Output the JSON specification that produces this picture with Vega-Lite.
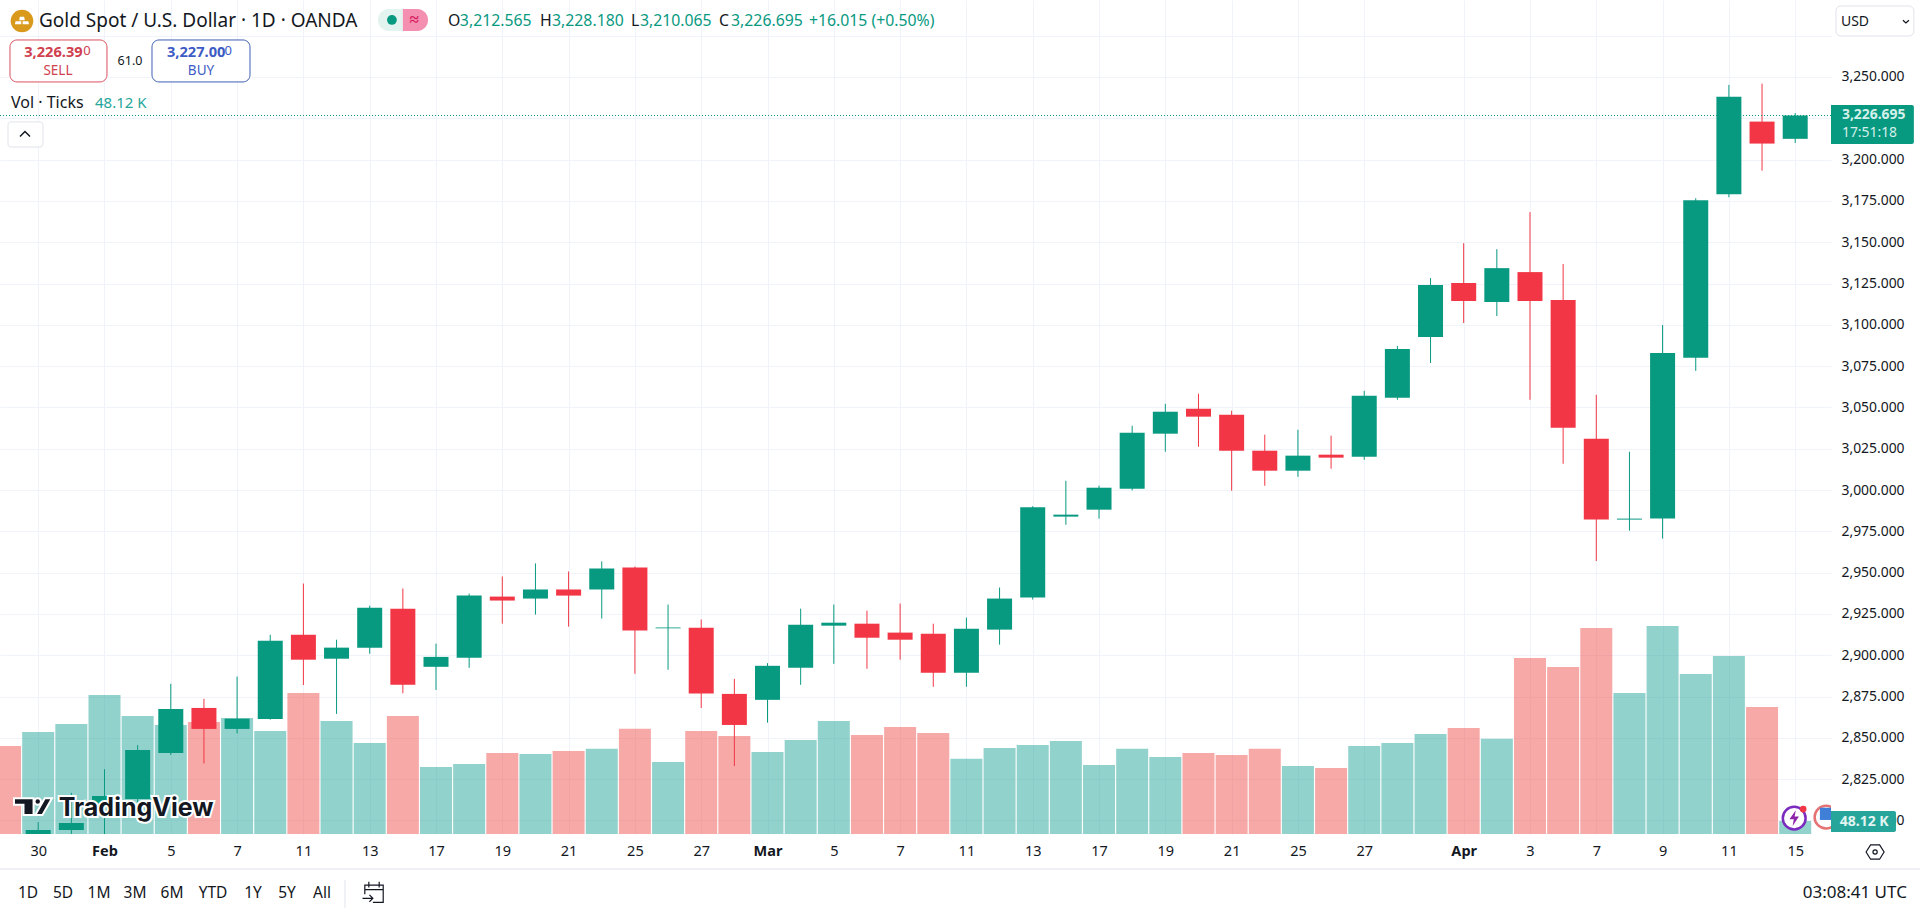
{
  "$schema": "https://vega.github.io/schema/vega-lite/v6.json",
  "width": 1831,
  "height": 834,
  "autosize": {"type": "none"},
  "padding": {"left": 0, "top": 0, "right": 89, "bottom": 79},
  "background": "#ffffff",
  "config": {
    "font": "Noto Sans",
    "view": {"stroke": null},
    "text": {"align": "left", "baseline": "middle", "color": "#131722", "fontSize": 15}
  },
  "datasets": {
    "days": [
      {"n": -1, "date": "2025-01-29", "open": 2768, "high": 2772, "low": 2760, "close": 2763, "vol": 326, "side": "down"},
      {"n": 0, "date": "2025-01-30", "open": 2764, "high": 2799, "low": 2760, "close": 2794.2, "vol": 377, "side": "up"},
      {"n": 1, "date": "2025-01-31", "open": 2794.2, "high": 2816.7, "low": 2772, "close": 2798.4, "vol": 407, "side": "up"},
      {"n": 2, "date": "2025-02-03", "open": 2810, "high": 2831, "low": 2785, "close": 2814.8, "vol": 514, "side": "up"},
      {"n": 3, "date": "2025-02-04", "open": 2813, "high": 2845.6, "low": 2811, "close": 2842.6, "vol": 437, "side": "up"},
      {"n": 4, "date": "2025-02-05", "open": 2840.8, "high": 2882.7, "low": 2839.6, "close": 2867.5, "vol": 403, "side": "up"},
      {"n": 5, "date": "2025-02-06", "open": 2868.1, "high": 2873.6, "low": 2834.5, "close": 2855.4, "vol": 414, "side": "down"},
      {"n": 6, "date": "2025-02-07", "open": 2855.4, "high": 2887.1, "low": 2852.7, "close": 2861.6, "vol": 429, "side": "up"},
      {"n": 7, "date": "2025-02-10", "open": 2861.4, "high": 2912.4, "low": 2861, "close": 2908.8, "vol": 381, "side": "up"},
      {"n": 8, "date": "2025-02-11", "open": 2912.4, "high": 2943.4, "low": 2882, "close": 2897.3, "vol": 522, "side": "down"},
      {"n": 9, "date": "2025-02-12", "open": 2897.9, "high": 2909.4, "low": 2864.5, "close": 2904.6, "vol": 418, "side": "up"},
      {"n": 10, "date": "2025-02-13", "open": 2904.6, "high": 2930, "low": 2900.9, "close": 2928.8, "vol": 337, "side": "up"},
      {"n": 11, "date": "2025-02-14", "open": 2928.2, "high": 2940.4, "low": 2877, "close": 2882.1, "vol": 437, "side": "down"},
      {"n": 12, "date": "2025-02-17", "open": 2893, "high": 2907, "low": 2879, "close": 2899, "vol": 248, "side": "up"},
      {"n": 13, "date": "2025-02-18", "open": 2898.5, "high": 2937.3, "low": 2892.4, "close": 2936.1, "vol": 259, "side": "up"},
      {"n": 14, "date": "2025-02-19", "open": 2935.5, "high": 2947.7, "low": 2919.1, "close": 2933.1, "vol": 300, "side": "down"},
      {"n": 15, "date": "2025-02-20", "open": 2934.3, "high": 2955.6, "low": 2924.6, "close": 2939.8, "vol": 296, "side": "up"},
      {"n": 16, "date": "2025-02-21", "open": 2939.8, "high": 2950.7, "low": 2917.3, "close": 2936.1, "vol": 307, "side": "down"},
      {"n": 17, "date": "2025-02-24", "open": 2939.8, "high": 2956.8, "low": 2922.2, "close": 2952.5, "vol": 315, "side": "up"},
      {"n": 18, "date": "2025-02-25", "open": 2953.1, "high": 2953.7, "low": 2888.8, "close": 2914.9, "vol": 389, "side": "down"},
      {"n": 19, "date": "2025-02-26", "open": 2916.3, "high": 2930.7, "low": 2891.2, "close": 2916.8, "vol": 266, "side": "up"},
      {"n": 20, "date": "2025-02-27", "open": 2916.7, "high": 2921.6, "low": 2868.1, "close": 2876.8, "vol": 381, "side": "down"},
      {"n": 21, "date": "2025-02-28", "open": 2876.6, "high": 2885.7, "low": 2832.9, "close": 2857.8, "vol": 363, "side": "down"},
      {"n": 22, "date": "2025-03-03", "open": 2873, "high": 2895.2, "low": 2859.2, "close": 2893.6, "vol": 303, "side": "up"},
      {"n": 23, "date": "2025-03-04", "open": 2892.4, "high": 2928.2, "low": 2882.1, "close": 2918.5, "vol": 348, "side": "up"},
      {"n": 24, "date": "2025-03-05", "open": 2917.9, "high": 2930.7, "low": 2894.8, "close": 2919.7, "vol": 418, "side": "up"},
      {"n": 25, "date": "2025-03-06", "open": 2919.1, "high": 2927, "low": 2891.8, "close": 2910.6, "vol": 366, "side": "down"},
      {"n": 26, "date": "2025-03-07", "open": 2913.7, "high": 2931.3, "low": 2897.3, "close": 2909.4, "vol": 396, "side": "down"},
      {"n": 27, "date": "2025-03-10", "open": 2913, "high": 2919.1, "low": 2880.9, "close": 2889.4, "vol": 374, "side": "down"},
      {"n": 28, "date": "2025-03-11", "open": 2889.4, "high": 2922.8, "low": 2880.9, "close": 2916.1, "vol": 278, "side": "up"},
      {"n": 29, "date": "2025-03-12", "open": 2915.5, "high": 2941, "low": 2906.4, "close": 2934.3, "vol": 318, "side": "up"},
      {"n": 30, "date": "2025-03-13", "open": 2934.9, "high": 2990.2, "low": 2933.7, "close": 2989.6, "vol": 329, "side": "up"},
      {"n": 31, "date": "2025-03-14", "open": 2983.9, "high": 3005.6, "low": 2979, "close": 2985.1, "vol": 344, "side": "up"},
      {"n": 32, "date": "2025-03-17", "open": 2988.1, "high": 3002.6, "low": 2982.7, "close": 3001.4, "vol": 255, "side": "up"},
      {"n": 33, "date": "2025-03-18", "open": 3000.8, "high": 3038.9, "low": 2999.8, "close": 3034.7, "vol": 315, "side": "up"},
      {"n": 34, "date": "2025-03-19", "open": 3034.1, "high": 3052.2, "low": 3023.2, "close": 3047.4, "vol": 285, "side": "up"},
      {"n": 35, "date": "2025-03-20", "open": 3049.2, "high": 3058.3, "low": 3026.2, "close": 3044.4, "vol": 300, "side": "down"},
      {"n": 36, "date": "2025-03-21", "open": 3045.6, "high": 3048, "low": 2999.6, "close": 3023.8, "vol": 292, "side": "down"},
      {"n": 37, "date": "2025-03-24", "open": 3023.8, "high": 3033.5, "low": 3002.6, "close": 3011.7, "vol": 315, "side": "down"},
      {"n": 38, "date": "2025-03-25", "open": 3011.7, "high": 3036.5, "low": 3008, "close": 3020.8, "vol": 252, "side": "up"},
      {"n": 39, "date": "2025-03-26", "open": 3021.4, "high": 3032.9, "low": 3012.9, "close": 3019.6, "vol": 244, "side": "down"},
      {"n": 40, "date": "2025-03-27", "open": 3020.2, "high": 3060, "low": 3018.3, "close": 3057, "vol": 326, "side": "up"},
      {"n": 41, "date": "2025-03-28", "open": 3055.8, "high": 3087.2, "low": 3054.6, "close": 3085.4, "vol": 337, "side": "up"},
      {"n": 42, "date": "2025-03-31", "open": 3092.6, "high": 3128.3, "low": 3076.9, "close": 3124.1, "vol": 370, "side": "up"},
      {"n": 43, "date": "2025-04-01", "open": 3125.3, "high": 3149.4, "low": 3101.1, "close": 3114.4, "vol": 392, "side": "down"},
      {"n": 44, "date": "2025-04-02", "open": 3113.8, "high": 3145.8, "low": 3105.3, "close": 3134.3, "vol": 352, "side": "up"},
      {"n": 45, "date": "2025-04-03", "open": 3131.9, "high": 3168.2, "low": 3054.6, "close": 3114.4, "vol": 651, "side": "down"},
      {"n": 46, "date": "2025-04-04", "open": 3115, "high": 3136.8, "low": 3015.9, "close": 3037.7, "vol": 618, "side": "down"},
      {"n": 47, "date": "2025-04-07", "open": 3031, "high": 3057.6, "low": 2957, "close": 2982.1, "vol": 762, "side": "down"},
      {"n": 48, "date": "2025-04-08", "open": 2982.1, "high": 3023.2, "low": 2975.4, "close": 2982.7, "vol": 522, "side": "up"},
      {"n": 49, "date": "2025-04-09", "open": 2982.7, "high": 3099.9, "low": 2970.6, "close": 3083, "vol": 770, "side": "up"},
      {"n": 50, "date": "2025-04-10", "open": 3080, "high": 3176.6, "low": 3072.1, "close": 3175.4, "vol": 592, "side": "up"},
      {"n": 51, "date": "2025-04-11", "open": 3179, "high": 3245.2, "low": 3177.2, "close": 3238.1, "vol": 659, "side": "up"},
      {"n": 52, "date": "2025-04-14", "open": 3223, "high": 3246, "low": 3193.3, "close": 3209.7, "vol": 470, "side": "down"},
      {"n": 53, "date": "2025-04-15", "open": 3212.565, "high": 3228.18, "low": 3210.065, "close": 3226.695, "vol": 48.12, "side": "up"}
    ],
    "one": [{}]
  },
  "resolve": {"scale": {"y": "independent"}},
  "layer": [
    {
      "data": {"name": "days"},
      "mark": {"type": "bar", "orient": "vertical", "width": 32, "opacity": 0.5, "clip": true},
      "encoding": {
        "x": {
          "field": "n",
          "type": "quantitative",
          "title": null,
          "scale": {"domain": [-1.152, 54.08], "nice": false, "zero": false, "padding": 0},
          "axis": {
            "orient": "bottom",
            "values": [0, 2, 4, 6, 8, 10, 12, 14, 16, 18, 20, 22, 24, 26, 28, 30, 32, 34, 36, 38, 40, 43, 45, 47, 49, 51, 53],
            "labelExpr": "['30','','Feb','','5','','7','','11','','13','','17','','19','','21','','25','','27','','Mar','','5','','7','','11','','13','','17','','19','','21','','25','','27','','','Apr','','3','','7','','9','','11','','15'][datum.value]",
            "labelFontWeight": {"condition": {"test": "datum.value == 2 || datum.value == 22 || datum.value == 43", "value": "bold"}, "value": "normal"},
            "labelFontSize": 14.5,
            "labelColor": "#131722",
            "labelPadding": 10,
            "labelOverlap": false,
            "labelFlush": false,
            "domain": false,
            "ticks": false,
            "grid": true,
            "gridColor": "#F0F3FA"
          }
        },
        "y": {"field": "vol", "type": "quantitative", "stack": null, "scale": {"domain": [0, 3086], "nice": false}, "axis": null},
        "color": {"condition": {"test": "datum.side == 'up'", "value": "#26A69A"}, "value": "#EF5350"}
      }
    },
    {
      "layer": [
        {
          "data": {"name": "days"},
          "mark": {"type": "rule", "clip": true, "strokeWidth": 1},
          "encoding": {
            "x": {"field": "n", "type": "quantitative"},
            "y": {
              "field": "low",
              "type": "quantitative",
              "title": null,
              "scale": {"domain": [2791.8, 3296.6], "nice": false, "zero": false},
              "axis": {
                "orient": "right",
                "values": [2800, 2825, 2850, 2875, 2900, 2925, 2950, 2975, 3000, 3025, 3050, 3075, 3100, 3125, 3150, 3175, 3200, 3225, 3250, 3275],
                "format": ",.3f",
                "labelExpr": "datum.value == 3275 || datum.value == 3225 ? '' : datum.label",
                "labelFontSize": 13.9,
                "labelColor": "#131722",
                "labelPadding": 10,
                "domain": false,
                "ticks": false,
                "grid": true,
                "gridColor": "#F0F3FA"
              }
            },
            "y2": {"field": "high"},
            "color": {"condition": {"test": "datum.side == 'up'", "value": "#089981"}, "value": "#F23645"}
          }
        },
        {
          "data": {"name": "one"},
          "mark": {"type": "rule", "color": "#089981", "strokeDash": [1, 2], "strokeWidth": 1},
          "encoding": {"y": {"datum": 3226.695}}
        },
        {
          "data": {"name": "days"},
          "mark": {"type": "bar", "orient": "vertical", "width": 25, "clip": true},
          "encoding": {
            "x": {"field": "n", "type": "quantitative"},
            "y": {"field": "open", "type": "quantitative"},
            "y2": {"field": "close"},
            "color": {"condition": {"test": "datum.side == 'up'", "value": "#089981"}, "value": "#F23645"}
          }
        },

        {"data": {"name": "one"}, "mark": {"type": "rule", "color": "#E0E3EB"}, "encoding": {"x": {"datum": -1.152}, "x2": {"datum": 56.77}, "y": {"datum": 2770.6}}},
        {"data": {"name": "one"}, "mark": {"type": "rule", "color": "#E0E3EB"}, "encoding": {"x": {"datum": 9.255}, "y": {"datum": 2763.9}, "y2": {"datum": 2747}}},

        {"data": {"name": "one"}, "mark": {"type": "point", "filled": true, "color": "#ffffff", "opacity": 1, "stroke": "#7B2CBF", "strokeWidth": 2.5, "size": 520, "shape": "circle", "clip": true}, "encoding": {"x": {"datum": 52.97}, "y": {"datum": 2801.4}}},
        {"data": {"name": "one"}, "mark": {"type": "point", "filled": true, "color": "#8E24AA", "opacity": 1, "size": 250, "shape": "M.2 -1 L-.6 .15 H-.05 L-.2 1 L.6 -.2 H.05 Z"}, "encoding": {"x": {"datum": 52.97}, "y": {"datum": 2801.4}}},
        {"data": {"name": "one"}, "mark": {"type": "point", "filled": true, "color": "#F23645", "opacity": 1, "size": 45, "shape": "circle"}, "encoding": {"x": {"datum": 53.24}, "y": {"datum": 2806.9}}},
        {"data": {"name": "one"}, "mark": {"type": "point", "filled": true, "color": "#ffffff", "opacity": 1, "stroke": "#E57373", "strokeWidth": 2.5, "size": 520, "shape": "circle", "clip": true}, "encoding": {"x": {"datum": 53.93}, "y": {"datum": 2802}}},
        {"data": {"name": "one"}, "mark": {"type": "point", "filled": true, "color": "#3F7FD8", "opacity": 1, "size": 150, "shape": "square", "clip": true}, "encoding": {"x": {"datum": 53.93}, "y": {"datum": 2804}}},

        {"data": {"name": "one"}, "mark": {"type": "point", "filled": true, "color": "#131722", "opacity": 1, "stroke": "#ffffff", "strokeWidth": 2, "size": 1444, "shape": "M-1 -.44 H.03 V.44 H-.5 V-.1 H-1 Z M.08 -.27 A.17 .17 0 1 1 .42 -.27 A.17 .17 0 1 1 .08 -.27 Z M.62 -.44 H1 L.5 .44 H.12 Z"}, "encoding": {"x": {"datum": -0.157}, "y": {"datum": 2808.4}}},
        {"data": {"values": [{"label": "TradingView"}]}, "mark": {"type": "text", "font": "Inter", "fontSize": 25, "fontWeight": 700, "color": "#ffffff", "stroke": "#ffffff", "strokeWidth": 4}, "encoding": {"x": {"datum": 0.62}, "y": {"datum": 2807.5}, "text": {"field": "label"}}},
        {"data": {"values": [{"label": "TradingView"}]}, "mark": {"type": "text", "font": "Inter", "fontSize": 25, "fontWeight": 700, "color": "#131722"}, "encoding": {"x": {"datum": 0.62}, "y": {"datum": 2807.5}, "text": {"field": "label"}}},

        {"data": {"name": "one"}, "mark": {"type": "point", "filled": true, "color": "#D99A1C", "opacity": 1, "size": 510, "shape": "circle"}, "encoding": {"x": {"datum": -0.489}, "y": {"datum": 3283.9}}},
        {"data": {"name": "one"}, "mark": {"type": "point", "filled": true, "color": "#ffffff", "opacity": 1, "size": 200, "shape": "M-.3 -.6 H.3 L.4 -.1 H-.4 Z M-.9 .05 H-.1 V.45 H-1 Z M.1 .05 H.9 L1 .45 H.1 Z"}, "encoding": {"x": {"datum": -0.489}, "y": {"datum": 3283.9}}},
        {"data": {"values": [{"label": "Gold Spot / U.S. Dollar · 1D · OANDA"}]}, "mark": {"type": "text", "fontSize": 19}, "encoding": {"x": {"datum": 0.024}, "y": {"datum": 3283.9}, "text": {"field": "label"}}},

        {"data": {"name": "one"}, "mark": {"type": "rect", "color": "#E3F3F0", "cornerRadiusTopLeft": 11, "cornerRadiusBottomLeft": 11}, "encoding": {"x": {"datum": 10.25}, "x2": {"datum": 11.0}, "y": {"datum": 3291.2}, "y2": {"datum": 3277.8}}},
        {"data": {"name": "one"}, "mark": {"type": "rect", "color": "#F48FB1", "cornerRadiusTopRight": 11, "cornerRadiusBottomRight": 11}, "encoding": {"x": {"datum": 11.0}, "x2": {"datum": 11.76}, "y": {"datum": 3291.2}, "y2": {"datum": 3277.8}}},
        {"data": {"name": "one"}, "mark": {"type": "point", "filled": true, "color": "#089981", "opacity": 1, "size": 95, "shape": "circle"}, "encoding": {"x": {"datum": 10.67}, "y": {"datum": 3284.5}}},
        {"data": {"values": [{"label": "≈"}]}, "mark": {"type": "text", "align": "center", "fontSize": 17, "fontWeight": "bold", "color": "#D81B60"}, "encoding": {"x": {"datum": 11.34}, "y": {"datum": 3284.5}, "text": {"field": "label"}}},

        {"data": {"values": [{"label": "O"}]}, "mark": {"type": "text", "fontSize": 15.8}, "encoding": {"x": {"datum": 12.36}, "y": {"datum": 3283.9}, "text": {"field": "label"}}},
        {"data": {"values": [{"label": "3,212.565"}]}, "mark": {"type": "text", "fontSize": 15.8, "color": "#089981"}, "encoding": {"x": {"datum": 12.72}, "y": {"datum": 3283.9}, "text": {"field": "label"}}},
        {"data": {"values": [{"label": "H"}]}, "mark": {"type": "text", "fontSize": 15.8}, "encoding": {"x": {"datum": 15.14}, "y": {"datum": 3283.9}, "text": {"field": "label"}}},
        {"data": {"values": [{"label": "3,228.180"}]}, "mark": {"type": "text", "fontSize": 15.8, "color": "#089981"}, "encoding": {"x": {"datum": 15.5}, "y": {"datum": 3283.9}, "text": {"field": "label"}}},
        {"data": {"values": [{"label": "L"}]}, "mark": {"type": "text", "fontSize": 15.8}, "encoding": {"x": {"datum": 17.88}, "y": {"datum": 3283.9}, "text": {"field": "label"}}},
        {"data": {"values": [{"label": "3,210.065"}]}, "mark": {"type": "text", "fontSize": 15.8, "color": "#089981"}, "encoding": {"x": {"datum": 18.15}, "y": {"datum": 3283.9}, "text": {"field": "label"}}},
        {"data": {"values": [{"label": "C"}]}, "mark": {"type": "text", "fontSize": 15.8}, "encoding": {"x": {"datum": 20.54}, "y": {"datum": 3283.9}, "text": {"field": "label"}}},
        {"data": {"values": [{"label": "3,226.695"}]}, "mark": {"type": "text", "fontSize": 15.8, "color": "#089981"}, "encoding": {"x": {"datum": 20.9}, "y": {"datum": 3283.9}, "text": {"field": "label"}}},
        {"data": {"values": [{"label": "+16.015 (+0.50%)"}]}, "mark": {"type": "text", "fontSize": 15.8, "color": "#089981"}, "encoding": {"x": {"datum": 23.25}, "y": {"datum": 3283.9}, "text": {"field": "label"}}},

        {"data": {"name": "one"}, "mark": {"type": "rect", "fill": "#ffffff", "stroke": "#D9505E", "cornerRadius": 7}, "encoding": {"x": {"datum": -0.851}, "x2": {"datum": 2.075}, "y": {"datum": 3272.4}, "y2": {"datum": 3247}}},
        {"data": {"values": [{"label": "3,226.39"}]}, "mark": {"type": "text", "fontSize": 14.6, "fontWeight": "bold", "color": "#D0404E"}, "encoding": {"x": {"datum": -0.42}, "y": {"datum": 3264.5}, "text": {"field": "label"}}},
        {"data": {"values": [{"label": "0"}]}, "mark": {"type": "text", "fontSize": 13, "color": "#D0404E"}, "encoding": {"x": {"datum": 1.36}, "y": {"datum": 3265.5}, "text": {"field": "label"}}},
        {"data": {"values": [{"label": "SELL"}]}, "mark": {"type": "text", "align": "center", "fontSize": 13.5, "color": "#D0404E"}, "encoding": {"x": {"datum": 0.597}, "y": {"datum": 3253.6}, "text": {"field": "label"}}},
        {"data": {"values": [{"label": "61.0"}]}, "mark": {"type": "text", "align": "center", "fontSize": 12.5}, "encoding": {"x": {"datum": 2.769}, "y": {"datum": 3259.7}, "text": {"field": "label"}}},
        {"data": {"name": "one"}, "mark": {"type": "rect", "fill": "#ffffff", "stroke": "#3F5FB5", "cornerRadius": 7}, "encoding": {"x": {"datum": 3.433}, "x2": {"datum": 6.389}, "y": {"datum": 3272.4}, "y2": {"datum": 3247}}},
        {"data": {"values": [{"label": "3,227.00"}]}, "mark": {"type": "text", "fontSize": 14.6, "fontWeight": "bold", "color": "#3D5BC4"}, "encoding": {"x": {"datum": 3.885}, "y": {"datum": 3264.5}, "text": {"field": "label"}}},
        {"data": {"values": [{"label": "0"}]}, "mark": {"type": "text", "fontSize": 13, "color": "#3D5BC4"}, "encoding": {"x": {"datum": 5.62}, "y": {"datum": 3265.5}, "text": {"field": "label"}}},
        {"data": {"values": [{"label": "BUY"}]}, "mark": {"type": "text", "align": "center", "fontSize": 13.5, "color": "#3D5BC4"}, "encoding": {"x": {"datum": 4.911}, "y": {"datum": 3253.6}, "text": {"field": "label"}}},

        {"data": {"values": [{"label": "Vol · Ticks"}]}, "mark": {"type": "text", "fontSize": 16}, "encoding": {"x": {"datum": -0.82}, "y": {"datum": 3234.3}, "text": {"field": "label"}}},
        {"data": {"values": [{"label": "48.12 K"}]}, "mark": {"type": "text", "fontSize": 15, "color": "#26A69A"}, "encoding": {"x": {"datum": 1.713}, "y": {"datum": 3234.3}, "text": {"field": "label"}}},
        {"data": {"name": "one"}, "mark": {"type": "rect", "fill": "#ffffff", "stroke": "#E0E3EB", "cornerRadius": 3}, "encoding": {"x": {"datum": -0.911}, "x2": {"datum": 0.144}, "y": {"datum": 3222.8}, "y2": {"datum": 3207.6}}},
        {"data": {"name": "one"}, "mark": {"type": "point", "filled": false, "color": "#131722", "opacity": 1, "strokeWidth": 1.5, "size": 100, "shape": "M-1 .5 L0 -.5 L1 .5"}, "encoding": {"x": {"datum": -0.398}, "y": {"datum": 3215.5}}},

        {"data": {"name": "one"}, "mark": {"type": "rect", "fill": "#ffffff", "stroke": "#E0E3EB", "cornerRadius": 5}, "encoding": {"x": {"datum": 54.23}, "x2": {"datum": 56.58}, "y": {"datum": 3293}, "y2": {"datum": 3274.8}}},
        {"data": {"values": [{"label": "USD"}]}, "mark": {"type": "text", "fontSize": 14}, "encoding": {"x": {"datum": 54.38}, "y": {"datum": 3283.3}, "text": {"field": "label"}}},
        {"data": {"name": "one"}, "mark": {"type": "point", "filled": false, "color": "#131722", "opacity": 1, "strokeWidth": 1.3, "size": 36, "shape": "M-1 -.4 L0 .5 L1 -.4"}, "encoding": {"x": {"datum": 56.34}, "y": {"datum": 3283.6}}},

        {"data": {"name": "one"}, "mark": {"type": "rect", "color": "#089981", "cornerRadiusTopRight": 2, "cornerRadiusBottomRight": 2}, "encoding": {"x": {"datum": 54.08}, "x2": {"datum": 56.58}, "y": {"datum": 3233.1}, "y2": {"datum": 3209.4}}},
        {"data": {"values": [{"label": "3,226.695"}]}, "mark": {"type": "text", "fontSize": 13.9, "fontWeight": "bold", "color": "#D5F0EA"}, "encoding": {"x": {"datum": 54.41}, "y": {"datum": 3227}, "text": {"field": "label"}}},
        {"data": {"values": [{"label": "17:51:18"}]}, "mark": {"type": "text", "fontSize": 13.9, "color": "#D5F0EA"}, "encoding": {"x": {"datum": 54.41}, "y": {"datum": 3216.1}, "text": {"field": "label"}}},
        {"data": {"name": "one"}, "mark": {"type": "rect", "color": "#26A69A", "cornerRadiusTopRight": 2, "cornerRadiusBottomRight": 2}, "encoding": {"x": {"datum": 54.08}, "x2": {"datum": 56.04}, "y": {"datum": 2805.7}, "y2": {"datum": 2793}}},
        {"data": {"values": [{"label": "48.12 K"}]}, "mark": {"type": "text", "align": "center", "fontSize": 14, "fontWeight": "bold", "color": "#E3F5F2"}, "encoding": {"x": {"datum": 55.08}, "y": {"datum": 2799}, "text": {"field": "label"}}},

        {"data": {"name": "one"}, "mark": {"type": "point", "filled": false, "color": "#131722", "opacity": 1, "strokeWidth": 1.2, "size": 324, "shape": "M-1 0 L-.5 -.8 H.5 L1 0 L.5 .8 H-.5 Z"}, "encoding": {"x": {"datum": 55.41}, "y": {"datum": 2780.9}}},
        {"data": {"name": "one"}, "mark": {"type": "point", "filled": false, "color": "#131722", "opacity": 1, "strokeWidth": 1.2, "size": 18, "shape": "circle"}, "encoding": {"x": {"datum": 55.41}, "y": {"datum": 2780.9}}},

        {"data": {"values": [{"label": "1D"}]}, "mark": {"type": "text", "align": "center", "fontSize": 15.5}, "encoding": {"x": {"datum": -0.308}, "y": {"datum": 2756}, "text": {"field": "label"}}},
        {"data": {"values": [{"label": "5D"}]}, "mark": {"type": "text", "align": "center", "fontSize": 15.5}, "encoding": {"x": {"datum": 0.748}, "y": {"datum": 2756}, "text": {"field": "label"}}},
        {"data": {"values": [{"label": "1M"}]}, "mark": {"type": "text", "align": "center", "fontSize": 15.5}, "encoding": {"x": {"datum": 1.834}, "y": {"datum": 2756}, "text": {"field": "label"}}},
        {"data": {"values": [{"label": "3M"}]}, "mark": {"type": "text", "align": "center", "fontSize": 15.5}, "encoding": {"x": {"datum": 2.92}, "y": {"datum": 2756}, "text": {"field": "label"}}},
        {"data": {"values": [{"label": "6M"}]}, "mark": {"type": "text", "align": "center", "fontSize": 15.5}, "encoding": {"x": {"datum": 4.036}, "y": {"datum": 2756}, "text": {"field": "label"}}},
        {"data": {"values": [{"label": "YTD"}]}, "mark": {"type": "text", "align": "center", "fontSize": 15.5}, "encoding": {"x": {"datum": 5.273}, "y": {"datum": 2756}, "text": {"field": "label"}}},
        {"data": {"values": [{"label": "1Y"}]}, "mark": {"type": "text", "align": "center", "fontSize": 15.5}, "encoding": {"x": {"datum": 6.48}, "y": {"datum": 2756}, "text": {"field": "label"}}},
        {"data": {"values": [{"label": "5Y"}]}, "mark": {"type": "text", "align": "center", "fontSize": 15.5}, "encoding": {"x": {"datum": 7.505}, "y": {"datum": 2756}, "text": {"field": "label"}}},
        {"data": {"values": [{"label": "All"}]}, "mark": {"type": "text", "align": "center", "fontSize": 15.5}, "encoding": {"x": {"datum": 8.561}, "y": {"datum": 2756}, "text": {"field": "label"}}},
        {"data": {"name": "one"}, "mark": {"type": "point", "filled": false, "color": "#131722", "opacity": 1, "strokeWidth": 1.2, "size": 529, "shape": "M-.8 .1 V-.7 H.8 V.8 H-.1 M-.8 -.3 H.8 M-.45 -1 V-.5 M.45 -1 V-.5 M-1 .45 H-.1 M-.4 .15 L-.1 .45 L-.4 .75"}, "encoding": {"x": {"datum": 10.13}, "y": {"datum": 2756}}},
        {"data": {"values": [{"label": "03:08:41 UTC"}]}, "mark": {"type": "text", "align": "right", "fontSize": 17}, "encoding": {"x": {"datum": 56.37}, "y": {"datum": 2756}, "text": {"field": "label"}}}
      ]
    }
  ]
}
